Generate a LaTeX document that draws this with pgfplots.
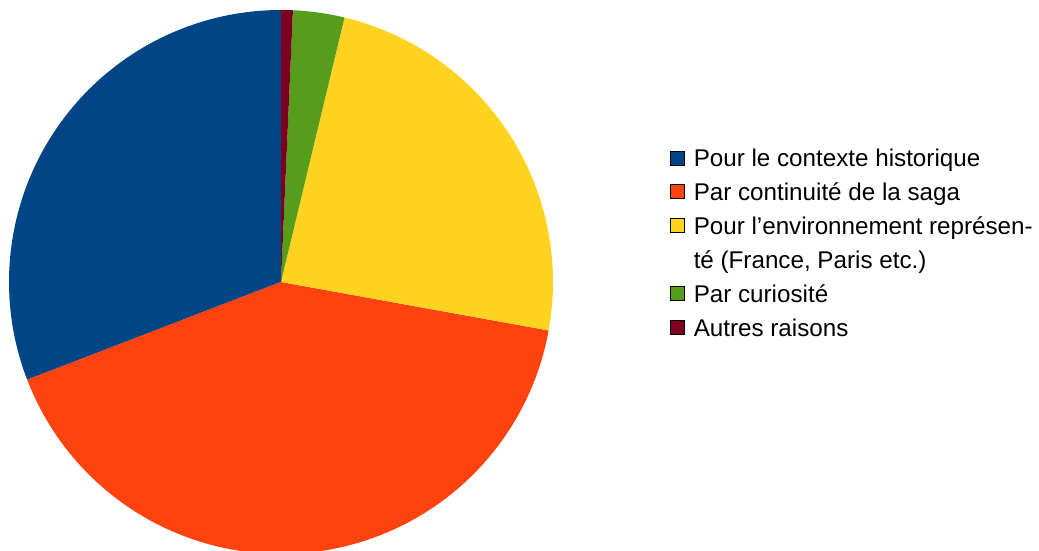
\documentclass[border=0pt]{standalone}
\usepackage{pgfplots}
\pgfplotsset{compat=1.18}
\usepackage{fontspec}
\setmainfont{Liberation Sans}
\definecolor{cblue}{HTML}{004586}
\definecolor{corange}{HTML}{FF420E}
\definecolor{cyellow}{HTML}{FFD320}
\definecolor{cgreen}{HTML}{579D1C}
\definecolor{cred}{HTML}{7E0021}

% shares in percent, counter-clockwise from 12 o'clock
\def\vA{30.85}\def\vB{41.3}\def\vC{24.1}\def\vD{3.05}\def\vE{0.7}
\pgfmathsetmacro\aA{90}
\pgfmathsetmacro\aB{\aA+3.6*\vA}
\pgfmathsetmacro\aC{\aB+3.6*\vB}
\pgfmathsetmacro\aD{\aC+3.6*\vC}
\pgfmathsetmacro\aE{\aD+3.6*\vD}
\pgfmathsetmacro\aF{\aE+3.6*\vE}

% wedge: start angle, end angle, colour
\newcommand{\slice}[3]{%
  \addplot[fill=#3, draw=none, domain=#1:#2, samples=90, forget plot]
    ({281+272*cos(x)}, {269+272*sin(x)}) -- (axis cs:281,269) -- cycle;}

\begin{document}
\begin{tikzpicture}
  \begin{axis}[
      width=1039pt, height=551pt, scale only axis,
      xmin=0, xmax=1039, ymin=0, ymax=551,
      hide axis,
      legend image code/.code={\fill[#1] (0pt,-6pt) rectangle (14pt,8pt);},
      legend cell align=left,
      legend style={at={(0.645,0.733)}, anchor=north west,
        draw=none, fill=none, inner sep=0pt,
        font=\fontsize{24.2}{34}\selectfont,
        row sep=10.6pt,
        /tikz/every odd column/.append style={column sep=7pt}},
    ]
    \slice{\aA}{\aB}{cblue}
    \slice{\aB}{\aC}{corange}
    \slice{\aC}{\aD}{cyellow}
    \slice{\aD}{\aE}{cgreen}
    \slice{\aE}{\aF}{cred}

    \addlegendimage{fill=cblue}
    \addlegendentry{Pour le contexte historique}
    \addlegendimage{fill=corange}
    \addlegendentry{Par continuité de la saga}
    \addlegendimage{fill=cyellow}
    \addlegendentry{Pour l'environnement représen-}
    \addlegendimage{empty legend}
    \addlegendentry{té (France, Paris etc.)}
    \addlegendimage{fill=cgreen}
    \addlegendentry{Par curiosité}
    \addlegendimage{fill=cred}
    \addlegendentry{Autres raisons}
  \end{axis}
  \pgfresetboundingbox
  \path (current axis.south west) rectangle (current axis.north east);
\end{tikzpicture}
\end{document}
